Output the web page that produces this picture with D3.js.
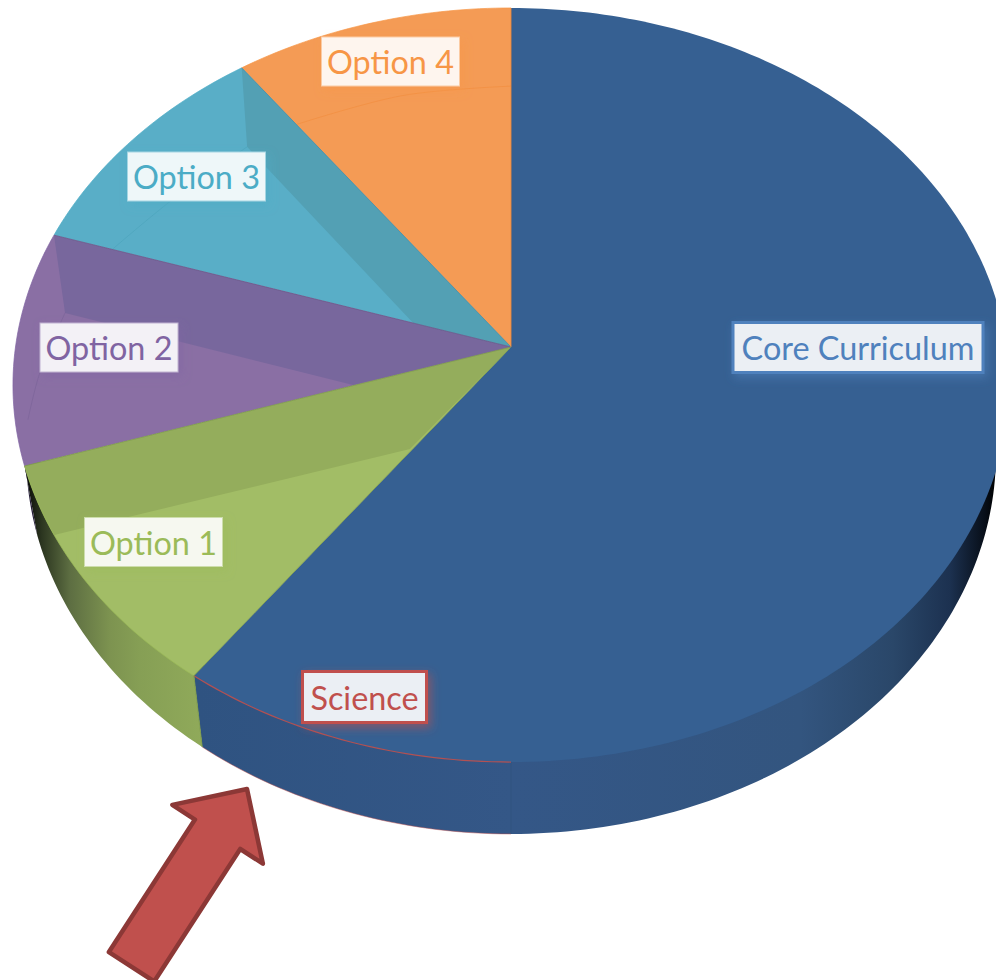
<!DOCTYPE html>
<html>
<head>
<meta charset="utf-8">
<script src="https://cdn.jsdelivr.net/npm/d3@7"></script>
<style>
  body { margin: 0; background: #fff; }
  svg { display: block; }
  .label-text { font-family: Lato, sans-serif; font-size: 32.4px; text-anchor: middle; dominant-baseline: central; }
</style>
</head>
<body>
<div id="chart"></div>
<script>
// Chart data
const categories = ["Core Curriculum", "Science", "Option 1", "Option 2", "Option 3", "Option 4"];
const shares = [50, 10, 10, 10, 10, 10];

const topFill = ["#366092", "#366092", "#a2bd66", "#8a6fa4", "#59aec7", "#f49b55"];
const accent = ["#4f81bd", "#c0504d", "#9bbb59", "#8064a2", "#4bacc6", "#f79646"];

const width = 996;
const height = 980;
const deg = Math.PI / 180;

// Perspective of the pie: the top disc and the (smaller, lower) bottom disc
const k = 0.1008;
const topDisc = { cx: 511, cy: 347, a: 495.5, b: 373.2 };
const bottomDisc = { cx: 511, cy: 415.7, a: 482.5, b: 376.1 };

function project(disc, angle, r) {
  const u = r * Math.sin(angle);
  const v = -r * Math.cos(angle);
  const w = 1 - k * v;
  return [disc.cx + (disc.a * u) / w, disc.cy + (disc.b * v) / w];
}

function arcPoints(disc, a0, a1, r) {
  const n = Math.max(2, Math.ceil(Math.abs(a1 - a0) / (1 * deg)));
  return d3.range(n + 1).map((i) => project(disc, a0 + ((a1 - a0) * i) / n, r));
}

const line = d3.line();
const svg = d3.select("#chart").append("svg").attr("width", width).attr("height", height);
const defs = svg.append("defs");

function wallGradient(id, stops) {
  const g = defs.append("linearGradient").attr("id", id)
    .attr("gradientUnits", "userSpaceOnUse")
    .attr("x1", 0).attr("x2", width).attr("y1", 0).attr("y2", 0);
  stops.forEach((s) => g.append("stop").attr("offset", s[0] / width).attr("stop-color", s[1]));
}

wallGradient("wall-blue", [[195, "#2f5381"], [511, "#345787"], [800, "#33557f"], [893, "#2a4769"], [950, "#1c3150"], [985, "#070e18"], [996, "#000"]]);
wallGradient("wall-green", [[24, "#050605"], [42, "#2c3620"], [70, "#5d6e42"], [110, "#7d9350"], [140, "#869f55"], [203, "#90aa5a"]]);
wallGradient("wall-purple", [[10, "#1a1428"], [40, "#2c2440"]]);
const wallFill = ["url(#wall-blue)", "url(#wall-blue)", "url(#wall-green)", "url(#wall-purple)", null, null];

// Label shadows, one per colour
accent.forEach((c, i) => {
  defs.append("filter").attr("id", `shadow-${i}`)
    .attr("x", "-20%").attr("y", "-30%").attr("width", "140%").attr("height", "170%")
    .append("feDropShadow")
    .attr("dx", 3).attr("dy", 4).attr("stdDeviation", 5)
    .attr("flood-color", c).attr("flood-opacity", 0.55);
});

const pie = d3.pie().sort(null).startAngle(0).endAngle(2 * Math.PI);
const slices = pie(shares);

// Side wall, only the part facing the viewer. The inner edge runs under the top disc.
const wallMin = 70 * deg;
const wallMax = 285 * deg;
slices.forEach((s, i) => {
  if (!wallFill[i]) return;
  const a0 = Math.max(s.startAngle, wallMin);
  const a1 = Math.min(s.endAngle, wallMax);
  const pts = arcPoints(bottomDisc, a0, a1, 1)
    .concat([project(topDisc, a1, 1)])
    .concat(arcPoints(topDisc, a1, a0, 0.97))
    .concat([project(topDisc, a0, 1)]);
  svg.append("path").attr("d", line(pts) + "Z").attr("fill", wallFill[i]);
});

// Science edge on the bottom of the wall
svg.append("path")
  .attr("d", line(arcPoints(bottomDisc, slices[1].startAngle, slices[1].endAngle, 1)))
  .attr("fill", "none").attr("stroke", accent[1]).attr("stroke-width", 0.8).attr("stroke-opacity", 0.6);

// Seam where the Core and Science walls meet
svg.append("path")
  .attr("d", line([project(topDisc, 180 * deg, 1), project(bottomDisc, 180 * deg, 1)]))
  .attr("fill", "none").attr("stroke", "#2c4f78").attr("stroke-width", 1).attr("stroke-opacity", 0.5);

// Top disc
slices.forEach((s, i) => {
  const pts = [project(topDisc, 0, 0)].concat(arcPoints(topDisc, s.startAngle, s.endAngle, 1));
  svg.append("path").attr("d", line(pts) + "Z").attr("fill", topFill[i]);
});

// Darker reflection bands: slice index, fill, corners as [angle in degrees, radius]
const bandSlice = [2, 3, 4];
const bandFill = ["#94ad5c", "#78679d", "#53a0b4"];
const bandCorners = [
  [[241.3, 0.994], [216.7, 0.332]],
  [[275.8, 0.913], [252.3, 0.331]],
  [[315.2, 0.799], [288, 0.209]],
];
bandCorners.forEach((corners, i) => {
  const end = slices[bandSlice[i]].endAngle;
  // The green band reaches the rim, the other two leave it in a straight line
  const rim = i === 0
    ? arcPoints(topDisc, end, corners[0][0] * deg, 1)
    : [project(topDisc, end, 1)];
  const pts = [project(topDisc, 0, 0)]
    .concat(rim)
    .concat(corners.map((c) => project(topDisc, c[0] * deg, c[1])));
  svg.append("path").attr("d", line(pts) + "Z").attr("fill", bandFill[i]);
});

// Faint inner arc
const arcAngles = [[258.7, 265.8, 275.8], [288, 300, 315.2], [324, 342, 360]];
const arcRadii = [[0.975, 0.947, 0.913], [0.869, 0.822, 0.799], [0.784, 0.76, 0.752]];
const arcStroke = ["#7a6298", "#4ba3bb", "#f28c3c"];
arcAngles.forEach((angles, i) => {
  svg.append("path")
    .attr("d", d3.line().curve(d3.curveCatmullRom)(angles.map((a, j) => project(topDisc, a * deg, arcRadii[i][j]))))
    .attr("fill", "none").attr("stroke", arcStroke[i]).attr("stroke-width", 1).attr("stroke-opacity", 0.6);
});

// Slice edges, the Science slice only has its rim outlined
slices.forEach((s, i) => {
  svg.append("path")
    .attr("d", line(arcPoints(topDisc, s.startAngle, s.endAngle, 1)))
    .attr("fill", "none").attr("stroke", i === 0 ? "none" : accent[i])
    .attr("stroke-width", i === 1 ? 1.2 : 1).attr("stroke-opacity", i === 1 ? 0.9 : 0.7);
});
const edgeStroke = ["#4a6a94", "#7f9c4c", "#7f9c4c", "#6d5a8c", "#4a8ea6", "#f08a3a"];
const edgeAngle = [180, 216, 252, 288, 324, 360];
edgeAngle.forEach((a, i) => {
  svg.append("path")
    .attr("d", line([project(topDisc, 0, 0), project(topDisc, a * deg, 1)]))
    .attr("fill", "none").attr("stroke", edgeStroke[i])
    .attr("stroke-width", 1).attr("stroke-opacity", i === 0 ? 0.15 : 0.85);
});
// Seam between green and blue on the wall
svg.append("path")
  .attr("d", line([project(topDisc, 216 * deg, 1), project(bottomDisc, 216 * deg, 1)]))
  .attr("stroke", "#7f9c4c").attr("stroke-width", 1).attr("fill", "none");

// Data labels
const labelCenter = [[858, 347.5], [364.5, 697], [153.5, 542], [109, 347.5], [196.5, 176.5], [390.5, 61.5]];
const labelSize = [[250, 50], [124, 51], [138, 49], [138, 49], [138, 49], [138, 49]];
const labelStroke = [3, 3, 1, 1, 1, 1];
categories.forEach((name, i) => {
  const g = svg.append("g").attr("transform", `translate(${labelCenter[i][0]},${labelCenter[i][1]})`);
  g.append("rect")
    .attr("x", -labelSize[i][0] / 2).attr("y", -labelSize[i][1] / 2)
    .attr("width", labelSize[i][0]).attr("height", labelSize[i][1])
    .attr("fill", d3.interpolateRgb(topFill[i], "#fff")(0.9))
    .attr("stroke", i < 2 ? accent[i] : d3.interpolateRgb(accent[i], "#fff")(0.5))
    .attr("stroke-width", labelStroke[i])
    .attr("filter", `url(#shadow-${i})`);
  g.append("text").attr("class", "label-text").attr("fill", accent[i]).text(name);
});

// Arrow pointing at the Science slice: along the axis from the tip, then across it
const arrowAlong = [0, 54, 54, 212, 212, 54, 54];
const arrowAcross = [0, 54, 27, 27, -27, -27, -54];
svg.append("path")
  .attr("transform", "translate(247,789) rotate(123)")
  .attr("d", line(arrowAlong.map((a, i) => [a, arrowAcross[i]])) + "Z")
  .attr("fill", "#c0504d").attr("stroke", "#8c3836").attr("stroke-width", 4.5).attr("stroke-linejoin", "round");
</script>
</body>
</html>
